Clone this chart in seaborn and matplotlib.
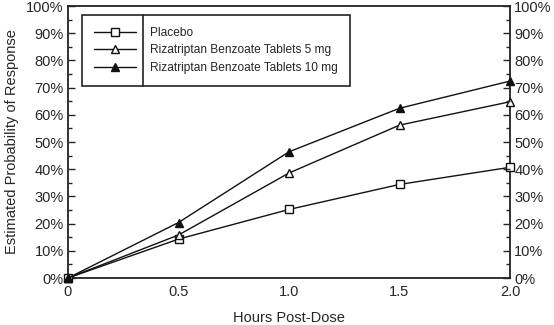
import matplotlib
matplotlib.use("Agg")
import matplotlib.pyplot as plt
import seaborn as sns
import pandas as pd
from matplotlib.lines import Line2D
from matplotlib.ticker import MultipleLocator, FuncFormatter

hours = [0, 0.5, 1.0, 1.5, 2.0]
placebo = [0, 14.3, 25.2, 34.4, 40.7]
riza5 = [0, 15.8, 38.6, 56.2, 64.8]
riza10 = [0, 20.4, 46.4, 62.4, 72.4]
series_names = ["Placebo", "Rizatriptan Benzoate Tablets 5 mg", "Rizatriptan Benzoate Tablets 10 mg"]
x_ticks = [0, 0.5, 1.0, 1.5, 2.0]
x_ticklabels = ["0", "0.5", "1.0", "1.5", "2.0"]

sns.set_style("ticks")
plt.rcParams["font.family"] = ["Liberation Sans", "DejaVu Sans"]

fig = plt.figure(figsize=(5.54, 3.25), dpi=100)
ax = fig.add_axes([68/554, 47/325, (510-68)/554, (278-6)/325])

styles = [
    dict(marker="s", markerfacecolor="white", markersize=5.5),
    dict(marker="^", markerfacecolor="white", markersize=6),
    dict(marker="^", markerfacecolor="#111111", markersize=5.5),
]
for name, vals, st in zip(series_names, [placebo, riza5, riza10], styles):
    df = pd.DataFrame({"h": hours, "v": vals})
    sns.lineplot(data=df, x="h", y="v", ax=ax, color="#111111", linewidth=1.0,
                 markeredgecolor="#111111", markeredgewidth=1.0, label=name,
                 clip_on=False, zorder=3, **st)

ax.set_xlim(0, 2.0)
ax.set_ylim(0, 100)
ax.set_xticks(x_ticks)
ax.set_xticklabels(x_ticklabels)
ax.yaxis.set_major_locator(MultipleLocator(10))
ax.yaxis.set_minor_locator(MultipleLocator(5))
ax.yaxis.set_major_formatter(FuncFormatter(lambda v, p: f"{int(v)}%"))
ax.tick_params(axis="y", which="major", direction="in", length=5, width=1, labelsize=10.5, pad=3)
ax.tick_params(axis="y", which="minor", direction="in", length=3, width=1)
ax.tick_params(axis="x", length=0, labelsize=10.5, pad=5)
for s in ax.spines.values():
    s.set_linewidth(1.3)
    s.set_color("#222222")

ax2 = ax.twinx()
ax2.set_ylim(0, 100)
ax2.yaxis.set_major_locator(MultipleLocator(10))
ax2.yaxis.set_minor_locator(MultipleLocator(5))
ax2.yaxis.set_major_formatter(FuncFormatter(lambda v, p: f"{int(v)}%"))
ax2.tick_params(axis="y", which="major", direction="in", length=5, width=1, labelsize=10.5, pad=3)
ax2.tick_params(axis="y", which="minor", direction="in", length=3, width=1)
for s in ax2.spines.values():
    s.set_visible(False)

ax.set_xlabel("Hours Post-Dose", fontsize=10.5, labelpad=9)
ax.set_ylabel("Estimated Probability of Response", fontsize=10.5, labelpad=5)

leg = ax.legend(loc="upper left", bbox_to_anchor=(14/442, 1 - 9/272), frameon=True,
                fancybox=False, edgecolor="#222222", framealpha=1, fontsize=8.6,
                handlelength=3.5, handletextpad=1.2, borderpad=1.0, labelspacing=0.45,
                borderaxespad=0)
leg.get_frame().set_linewidth(1.2)

fig.canvas.draw()
bb = leg.get_window_extent()
texts = [t.get_window_extent() for t in leg.get_texts()]
xdiv = min(t.x0 for t in texts) - 7
fig.add_artist(Line2D([xdiv/fig.bbox.width]*2, [bb.y0/fig.bbox.height, bb.y1/fig.bbox.height],
                      color="#222222", linewidth=1.2, zorder=10))

fig.savefig("out.png", dpi=100)
